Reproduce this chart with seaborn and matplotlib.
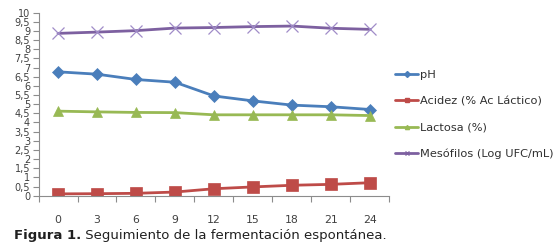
import numpy as np
import pandas as pd
import seaborn as sns
import matplotlib
matplotlib.use("Agg")
import matplotlib.pyplot as plt
from matplotlib.lines import Line2D
from matplotlib.ticker import FuncFormatter, MultipleLocator

hours = [0, 3, 6, 9, 12, 15, 18, 21, 24]
ph = [6.77, 6.64, 6.35, 6.2, 5.45, 5.18, 4.95, 4.86, 4.71]
acidez = [0.1, 0.11, 0.13, 0.2, 0.38, 0.48, 0.57, 0.62, 0.71]
lactosa = [4.62, 4.58, 4.55, 4.54, 4.42, 4.42, 4.42, 4.42, 4.38]
mesofilos = [8.87, 8.94, 9.02, 9.16, 9.19, 9.24, 9.27, 9.15, 9.09]
series_names = ["pH", "Acidez (% Ac Láctico)", "Lactosa (%)", "Mesófilos (Log UFC/mL)"]
caption_bold = "Figura 1."
caption_rest = " Seguimiento de la fermentación espontánea."

colors = ["#4A7EBB", "#BE4B48", "#98B954", "#7D60A0"]
markers = ["D", "s", "^", "x"]
msizes = [6, 8, 7, 9]

df = pd.DataFrame({
    "hora": hours * 4,
    "valor": ph + acidez + lactosa + mesofilos,
    "serie": sum([[n] * len(hours) for n in series_names], []),
})

sns.set_theme(style="white")
plt.rcParams["font.family"] = ["DejaVu Sans"]

fig = plt.figure(figsize=(5.57, 2.46), dpi=100)
ax = fig.add_axes([38.5 / 557, 1 - 195.7 / 246, (389.5 - 38.5) / 557, (195.7 - 12.7) / 246])

for name, c, m, ms in zip(series_names, colors, markers, msizes):
    sub = df[df["serie"] == name]
    mec = "#A08CC8" if m == "x" else c
    sns.lineplot(data=sub, x="hora", y="valor", color=c, marker=m, markersize=ms,
                 linewidth=2.0, markeredgecolor=mec, markeredgewidth=0.9 if m == "x" else 0.5,
                 ax=ax, legend=False)

ax.set_xlim(-1.5, 25.5)
ax.set_ylim(0, 10)
ax.set_xticks(hours)
ax.set_xticks(np.arange(-1.5, 26, 3), minor=True)
ax.yaxis.set_major_locator(MultipleLocator(0.5))
ax.yaxis.set_major_formatter(FuncFormatter(lambda v, p: ("%g" % v).replace(".", ",")))
ax.tick_params(axis="x", which="major", length=0, pad=14, labelsize=7.8, labelcolor="#404040")
ax.tick_params(axis="x", which="minor", length=4, width=0.8, color="#8c8c8c", direction="out", bottom=True)
ax.tick_params(axis="y", which="major", length=4, width=0.8, color="#8c8c8c", direction="out",
               left=True, pad=2, labelsize=7, labelcolor="#404040")
ax.set_xlabel("")
ax.set_ylabel("")
for s in ["top", "right"]:
    ax.spines[s].set_visible(False)
for s in ["left", "bottom"]:
    ax.spines[s].set_color("#8c8c8c")
    ax.spines[s].set_linewidth(0.8)
ax.grid(False)

handles = [Line2D([0], [0], color=c, marker=m, markersize=3, linewidth=2.0)
           for c, m in zip(colors, markers)]
fig.legend(handles, series_names, loc="upper left", bbox_to_anchor=(385 / 557, 1 - 60 / 246),
           frameon=False, fontsize=8.2, handlelength=2.0, handletextpad=0.2, labelspacing=1.42,
           labelcolor="#303030")

t1 = fig.text(14 / 557, 1 - 236 / 246, caption_bold, fontsize=9.5, fontweight="bold",
              va="center", ha="left", color="#202020")
fig.canvas.draw()
bb = t1.get_window_extent(fig.canvas.get_renderer())
fig.text(bb.x1 / fig.bbox.width, 1 - 236 / 246, caption_rest, fontsize=9.5,
         va="center", ha="left", color="#202020")

fig.savefig("out.png", dpi=100)
